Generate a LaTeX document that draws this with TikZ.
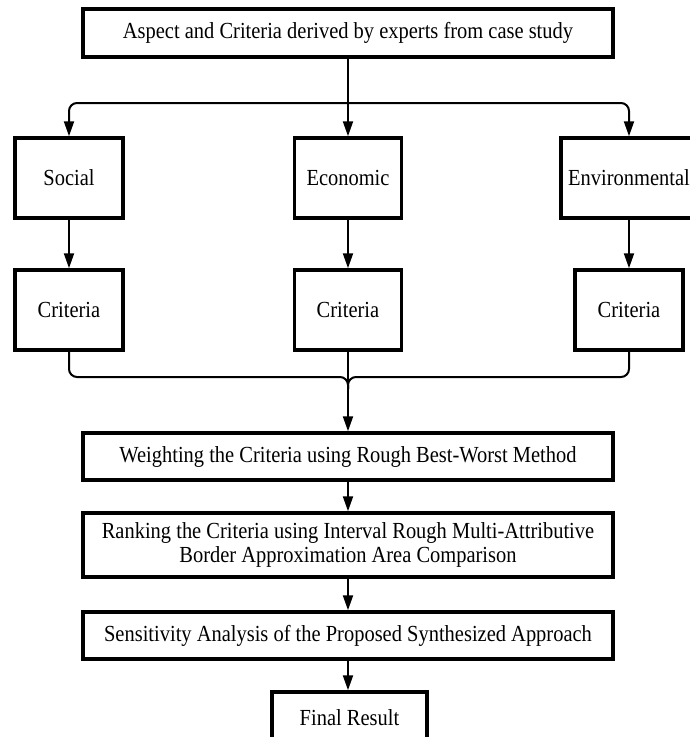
\documentclass[tikz,border=0pt]{standalone}
\usepackage{fontspec}
\setmainfont{Liberation Serif}[FakeStretch=0.89]
\usetikzlibrary{arrows.meta}

\tikzset{
  stagebox/.style={draw, line width=3.5pt, fill=white, align=center, inner sep=0pt},
  link/.style={line width=2pt},
}

\begin{document}
\begin{tikzpicture}[x=1pt, y=-1pt, >={Triangle[length=15pt, width=10pt]},
    font=\fontsize{23}{24}\selectfont]
        \useasboundingbox (0,0) rectangle (690,737);
        \clip (0,0) rectangle (690,737);

        % Top box
        \node[stagebox, minimum width=530pt, minimum height=48pt] (aspect) at (348, 33) {Aspect and Criteria derived by experts from case study};

        % Aspects
        \node[stagebox, minimum width=108pt, minimum height=80pt] (social) at (69, 178) {Social};
        \node[stagebox, minimum width=107pt, minimum height=80pt] (economic) at (348, 178) {Economic};
        \node[stagebox, minimum width=136pt, minimum height=80pt] (environ) at (629, 178) {Environmental};

        % Criteria of each aspect
        \node[stagebox, minimum width=108pt, minimum height=80pt] (critsoc) at (69, 310) {Criteria};
        \node[stagebox, minimum width=107pt, minimum height=80pt] (criteco) at (348, 310) {Criteria};
        \node[stagebox, minimum width=108pt, minimum height=80pt] (critenv) at (629, 310) {Criteria};

        % Method steps
        \node[stagebox, minimum width=530pt, minimum height=47pt] (weight) at (348, 456.5) {Weighting the Criteria using Rough Best-Worst Method};
        \node[stagebox, minimum width=530pt, minimum height=64pt] (rank) at (348, 545) {Ranking the Criteria using Interval Rough Multi-Attributive\\ Border Approximation Area Comparison};
        \node[stagebox, minimum width=530pt, minimum height=47pt] (sens) at (348, 635.5) {Sensitivity Analysis of the Proposed Synthesized Approach};
        \node[stagebox, minimum width=155pt, minimum height=52pt] (final) at (349.5, 718) {Final Result};

        % Split and join points
        \coordinate (split) at (348, 103);
        \coordinate (join) at (348, 377);

        % Branching arrows
        \draw[link, ->] (aspect) -- (economic);
        \draw[link, ->, rounded corners=8pt] (split) -| (social);
        \draw[link, ->, rounded corners=8pt] (split) -| (environ);
        \draw[link, ->] (social) -- (critsoc);
        \draw[link, ->] (economic) -- (criteco);
        \draw[link, ->] (environ.south -| critenv) -- (critenv);

        % Merging lines
        \draw[link, rounded corners=8pt] (critsoc) |- (join) -- ++(0, 12);
        \draw[link, rounded corners=8pt] (critenv) |- (join) -- ++(0, 12);
        \draw[link, ->] (criteco) -- (weight);

        % Steps
        \draw[link, ->] (weight) -- (rank);
        \draw[link, ->] (rank) -- (sens);
        \draw[link, ->] (sens.south) -- (sens.south |- final.north);
    \end{tikzpicture}
\end{document}
